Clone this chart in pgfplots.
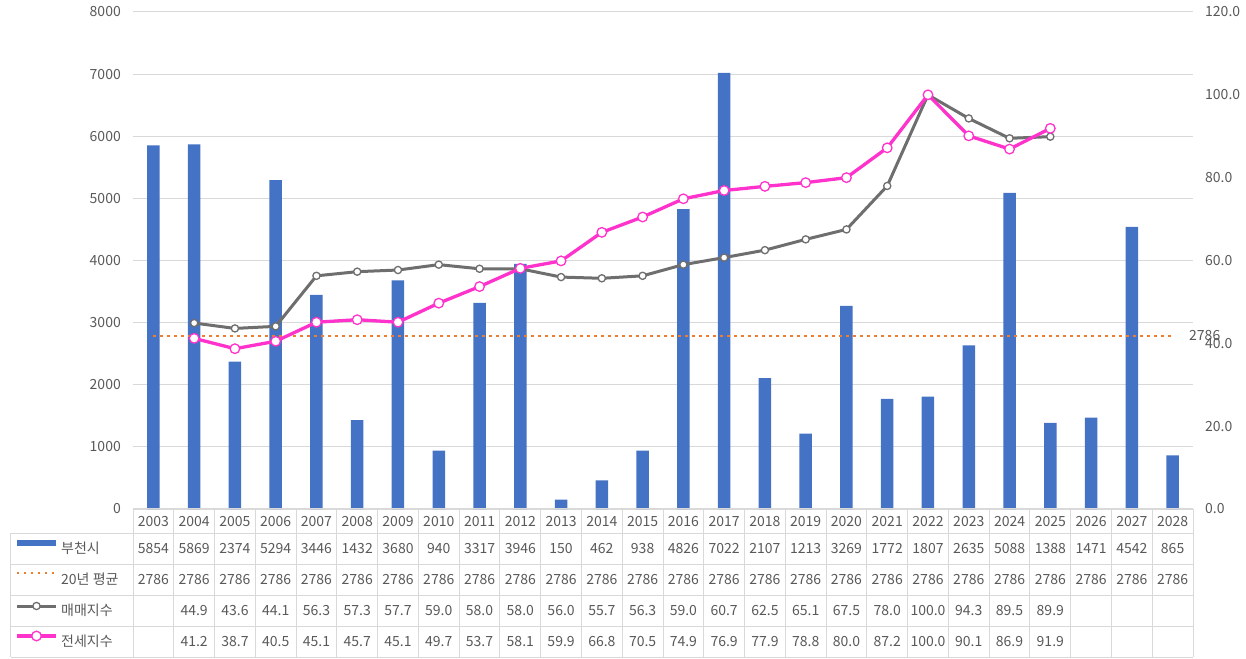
\documentclass[border=0pt]{standalone}
\usepackage{fontspec}
\setmainfont{Noto Sans CJK KR}
\usepackage{pgfplots}
\pgfplotsset{compat=1.18}
\definecolor{barblue}{HTML}{4472C4}
\definecolor{avgorange}{HTML}{ED7D31}
\definecolor{idxgray}{HTML}{6E6E6E}
\definecolor{idxmag}{HTML}{FF33CC}
\definecolor{txtgray}{HTML}{595959}
\definecolor{gridgray}{HTML}{D9D9D9}
\newcommand{\tf}{\fontsize{14}{16}\selectfont}
\begin{document}
\begin{tikzpicture}[x=1pt,y=1pt]
\useasboundingbox (-133,-149) rectangle (1113,509);
\begin{axis}[
  at={(0,0)}, anchor=south west,
  scale only axis, width=1060pt, height=497pt,
  xmin=-0.5, xmax=25.5, ymin=0, ymax=8000,
  xtick=\empty,
  ytick={0,1000,...,8000},
  ymajorgrids, grid style={gridgray, line width=1pt},
  axis line style={draw=none}, major tick length=0pt,
  /pgf/number format/assume math mode=true,
  /pgf/number format/1000 sep={},
  yticklabel style={font=\tf, text=txtgray, anchor=east, inner sep=0pt, xshift=-12pt},
  clip=false,
]
\addplot[ybar, bar width=12.5pt, fill=barblue, draw=none] coordinates {
(0,5854) (1,5869) (2,2374) (3,5294) (4,3446) (5,1432) (6,3680) (7,940) (8,3317) (9,3946)
(10,150) (11,462) (12,938) (13,4826) (14,7022) (15,2107) (16,1213) (17,3269) (18,1772) (19,1807)
(20,2635) (21,5088) (22,1388) (23,1471) (24,4542) (25,865)};
\addplot[avgorange, line width=2.5pt, dash pattern=on 2.5pt off 4.5pt] coordinates {(0,2786) (25,2786)}
  node[pos=1, anchor=west, xshift=12pt, font=\tf, text=txtgray] {2786};
\end{axis}
\begin{axis}[
  at={(0,0)}, anchor=south west,
  scale only axis, width=1060pt, height=497pt,
  xmin=-0.5, xmax=25.5, ymin=0, ymax=120,
  axis x line=none, axis y line*=right,
  xtick=\empty,
  ytick={0,20,...,120},
  axis line style={draw=none}, major tick length=0pt,
  /pgf/number format/assume math mode=true,
  yticklabel style={font=\tf, text=txtgray, anchor=west, inner sep=0pt, xshift=12pt,
    /pgf/number format/.cd, fixed, fixed zerofill, precision=1},
  clip=false,
]
\addplot[idxgray, line width=3pt, mark=*, mark size=3.6pt,
  mark options={fill=white, draw=idxgray, line width=1.3pt}] coordinates {
(1,44.9) (2,43.6) (3,44.1) (4,56.3) (5,57.3) (6,57.7) (7,59.0) (8,58.0) (9,58.0) (10,56.0)
(11,55.7) (12,56.3) (13,59.0) (14,60.7) (15,62.5) (16,65.1) (17,67.5) (18,78.0) (19,100.0)
(20,94.3) (21,89.5) (22,89.9)};
\addplot[idxmag, line width=3.3pt, mark=*, mark size=4.8pt,
  mark options={fill=white, draw=idxmag, line width=1.3pt}] coordinates {
(1,41.2) (2,38.7) (3,40.5) (4,45.1) (5,45.7) (6,45.1) (7,49.7) (8,53.7) (9,58.1) (10,59.9)
(11,66.8) (12,70.5) (13,74.9) (14,76.9) (15,77.9) (16,78.8) (17,80.0) (18,87.2) (19,100.0)
(20,90.1) (21,86.9) (22,91.9)};
\end{axis}
% data table
\begin{scope}[gridgray, line width=1pt]
\foreach \k in {0,...,26} \draw ({\k*40.76923},0) -- ({\k*40.76923},-148);
\draw (-122,-24) -- (-122,-148);
\draw (0,0) -- (1060,0);
\foreach \yy in {-24,-55,-86,-117,-148} \draw (-122,\yy) -- (1060,\yy);
\end{scope}
\begin{scope}[every node/.style={font=\tf, text=txtgray, inner sep=0pt, text height=10pt, text depth=0pt}]
\foreach \yr/\b/\m/\j [count=\i from 0] in {
2003/5854/{}/{}, 2004/5869/44.9/41.2, 2005/2374/43.6/38.7, 2006/5294/44.1/40.5,
2007/3446/56.3/45.1, 2008/1432/57.3/45.7, 2009/3680/57.7/45.1, 2010/940/59.0/49.7,
2011/3317/58.0/53.7, 2012/3946/58.0/58.1, 2013/150/56.0/59.9, 2014/462/55.7/66.8,
2015/938/56.3/70.5, 2016/4826/59.0/74.9, 2017/7022/60.7/76.9, 2018/2107/62.5/77.9,
2019/1213/65.1/78.8, 2020/3269/67.5/80.0, 2021/1772/78.0/87.2, 2022/1807/100.0/100.0,
2023/2635/94.3/90.1, 2024/5088/89.5/86.9, 2025/1388/89.9/91.9, 2026/1471/{}/{},
2027/4542/{}/{}, 2028/865/{}/{}} {
  \node at ({(\i+0.5)*40.76923},-12) {\yr};
  \node at ({(\i+0.5)*40.76923},-39.5) {\b};
  \node at ({(\i+0.5)*40.76923},-70.5) {2786};
  \node at ({(\i+0.5)*40.76923},-101.5) {\m};
  \node at ({(\i+0.5)*40.76923},-132.5) {\j};
}
\node[anchor=west] at (-72,-39.5) {부천시};
\node[anchor=west] at (-72,-70.5) {20년 평균};
\node[anchor=west] at (-72,-101.5) {매매지수};
\node[anchor=west] at (-72,-132.5) {전세지수};
\end{scope}
\fill[barblue] (-116,-37) rectangle (-77,-31);
\draw[avgorange, line width=2.5pt, dash pattern=on 2.5pt off 4.5pt] (-116,-64) -- (-77,-64);
\draw[idxgray, line width=3pt] (-116,-97) -- (-77,-97);
\draw[idxgray, fill=white, line width=1.3pt] (-96.5,-97) circle (3.6);
\draw[idxmag, line width=3.3pt] (-116,-127) -- (-77,-127);
\draw[idxmag, fill=white, line width=1.3pt] (-96.5,-127) circle (4.8);
\end{tikzpicture}
\end{document}
